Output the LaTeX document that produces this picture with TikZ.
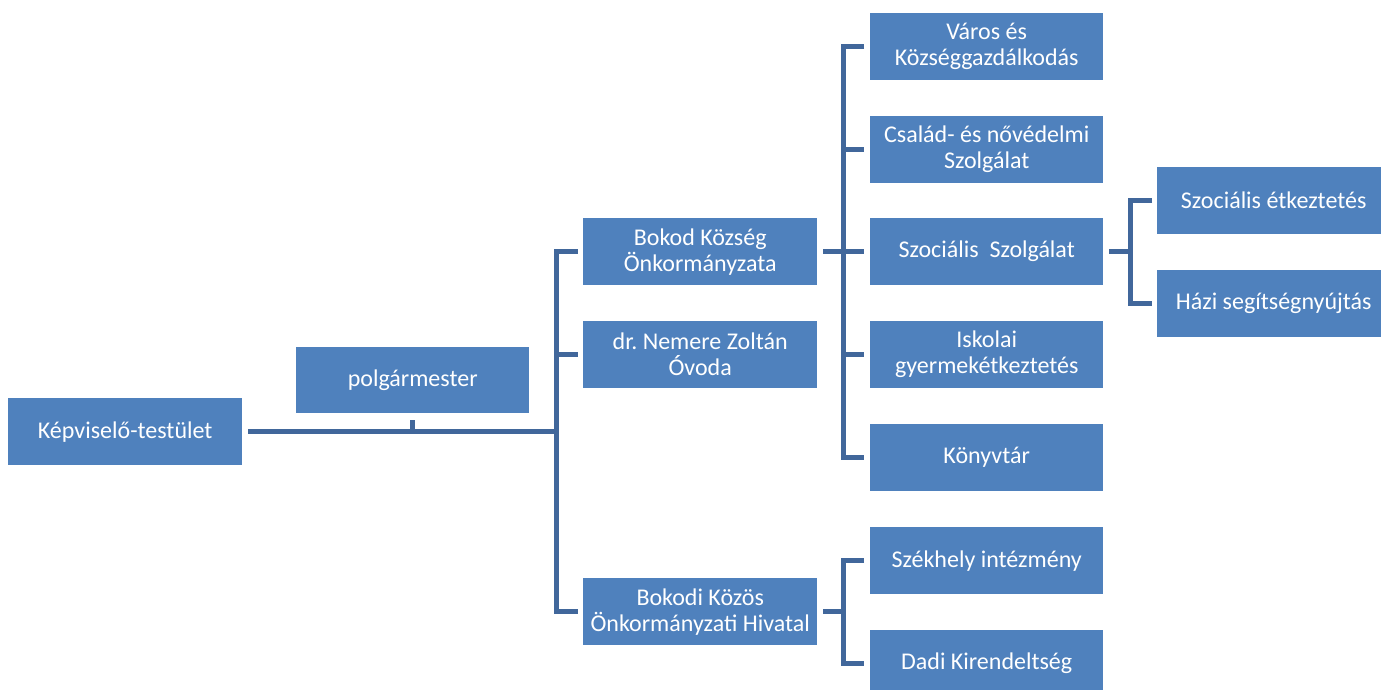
\documentclass[tikz,border=0pt]{standalone}
\usepackage{fontspec}
\setmainfont{Carlito}
\frenchspacing
\definecolor{boxblue}{HTML}{4F81BD}
\definecolor{lineblue}{HTML}{41679B}
\begin{document}
\begin{tikzpicture}[x=1pt,y=-1pt,
  box/.style={fill=boxblue, text=white, draw=none, minimum width=233pt, minimum height=67pt,
    inner sep=0pt, align=center, anchor=north west,
    font=\fontsize{24pt}{26pt}\selectfont},
  conn/.style={draw=lineblue, line width=5pt, line join=miter}]
\useasboundingbox (0,0) rectangle (1381,690);
\clip (0,0) rectangle (1381,690);
\fill[white] (0,0) rectangle (1381,690);
% nodes
\node[box, minimum width=234pt] (kt) at (8,398) {Képviselő-testület};
\node[box, minimum height=66pt] (pm) at (296,347) {polgármester};
\node[box, minimum width=234pt] (bk) at (583,218) {Bokod Község\\Önkormányzata};
\node[box, minimum width=234pt] (ov) at (583,321) {dr. Nemere Zoltán\\Óvoda};
\node[box, minimum width=234pt] (hiv) at (583,578) {Bokodi Közös\\Önkormányzati Hivatal};
\node[box] (vk) at (870,13) {Város és\\Községgazdálkodás};
\node[box] (cs) at (870,116) {Család- és nővédelmi\\Szolgálat};
\node[box] (sz) at (870,218) {Szociális\ \ Szolgálat};
\node[box] (isk) at (870,321) {Iskolai\\gyermekétkeztetés};
\node[box] (kv) at (870,424) {Könyvtár};
\node[box] (szh) at (870,527) {Székhely intézmény};
\node[box] (dad) at (870,630) {Dadi Kirendeltség};
\node[box] (se) at (1157,167) {Szociális étkeztetés};
\node[box] (hs) at (1157,270) {Házi segítségnyújtás};
% bus coordinates
\coordinate (busA) at (556.5,0);
\coordinate (busB) at (843,0);
\coordinate (busC) at (1130,0);
% main connectors
\draw[conn] ([xshift=6pt]kt.east) -- (kt.east -| busA);
\draw[conn] ([yshift=-7pt]pm.south) -- (pm.south |- kt.east);
\draw[conn] ([xshift=-5.5pt]bk.west) -- (bk.west -| busA) -- (hiv.west -| busA) -- ([xshift=-5.5pt]hiv.west);
\draw[conn] (ov.west -| busA) -- ([xshift=-5.5pt]ov.west);
% Bokod Község children
\draw[conn] ([xshift=6pt]bk.east) -- (bk.east -| busB);
\draw[conn] ([xshift=-6pt]vk.west) -- (vk.west -| busB) -- (kv.west -| busB) -- ([xshift=-6pt]kv.west);
\draw[conn] (cs.west -| busB) -- ([xshift=-6pt]cs.west);
\draw[conn] (sz.west -| busB) -- ([xshift=-6pt]sz.west);
\draw[conn] (isk.west -| busB) -- ([xshift=-6pt]isk.west);
% Szociális Szolgálat children
\draw[conn] ([xshift=6pt]sz.east) -- (sz.east -| busC);
\draw[conn] ([xshift=-5pt]se.west) -- (se.west -| busC) -- (hs.west -| busC) -- ([xshift=-5pt]hs.west);
% Hivatal children
\draw[conn] ([xshift=6pt]hiv.east) -- (hiv.east -| busB);
\draw[conn] ([xshift=-6pt]szh.west) -- (szh.west -| busB) -- (dad.west -| busB) -- ([xshift=-6pt]dad.west);
\end{tikzpicture}
\end{document}
